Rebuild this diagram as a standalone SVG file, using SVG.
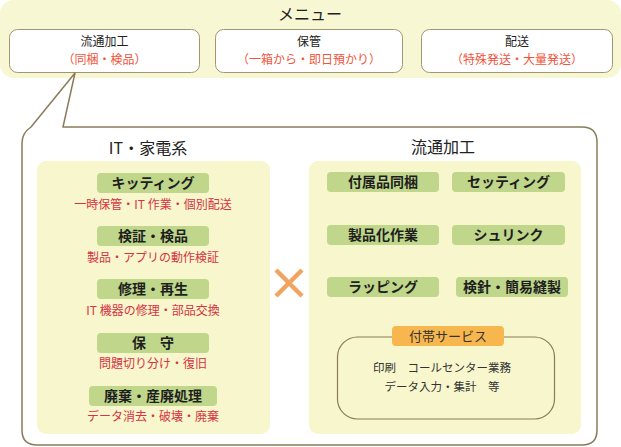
<svg xmlns="http://www.w3.org/2000/svg" width="621" height="447" viewBox="0 0 621 447">
<defs>
<style>
text{font-family:"Noto Sans CJK JP","Noto Sans",sans-serif;text-anchor:middle}
.ttl{font-size:16px;fill:#222}
.mbox{fill:#fff;stroke:#a39572;stroke-width:1}
.mname{font-size:12px;fill:#222}
.mred{font-size:12px;fill:#f0553c}
.panel{fill:#f7f6cd}
.btn{fill:#bfd68b}
.btxt{font-size:14px;font-weight:bold;fill:#1e1e1e}
.sub{font-size:12px;fill:#d63343}
.svc{font-size:11.5px;fill:#333}
</style>
</defs>
<g id="menu">
<rect x="0" y="0" width="621" height="78" rx="14" fill="#f8f7d3"/>
<text class="ttl" x="310" y="20">メニュー</text>
</g>
<g id="menu-ryutsu">
<rect class="mbox" x="9.5" y="29.5" width="190" height="43" rx="8"/>
<text class="mname" x="104.5" y="46">流通加工</text>
<text class="mred" x="104.5" y="64">（同梱・検品）</text>
</g>
<g id="menu-hokan">
<rect class="mbox" x="215.5" y="29.5" width="187" height="43" rx="8"/>
<text class="mname" x="309" y="46">保管</text>
<text class="mred" x="309" y="64">（一箱から・即日預かり）</text>
</g>
<g id="menu-haiso">
<rect class="mbox" x="421.5" y="29.5" width="191" height="43" rx="8"/>
<text class="mname" x="517" y="46">配送</text>
<text class="mred" x="517" y="64">（特殊発送・大量発送）</text>
</g>
<g id="connectors">
<path d="M75,73 L63,127 H582 Q597,127 597,142 V430 Q597,445 582,445 H37 Q22,445 22,430 V143 Q22,133 31,127 Z" fill="#fff" stroke="#8a7b5a" stroke-width="1.5" stroke-linejoin="round"/>
</g>
<g id="it-panel">
<text class="ttl" x="148" y="153.5">IT・家電系</text>
<rect class="panel" x="37" y="161" width="233" height="273" rx="9"/>
</g>
<g id="kitting">
<rect class="btn" x="97" y="173" width="112" height="20" rx="4"/>
<text class="btxt" x="153" y="188">キッティング</text>
<text class="sub" x="153" y="208.5">一時保管・IT 作業・個別配送</text>
</g>
<g id="kensho">
<rect class="btn" x="97" y="226" width="112" height="20" rx="4"/>
<text class="btxt" x="153" y="241">検証・検品</text>
<text class="sub" x="153" y="261.5">製品・アプリの動作検証</text>
</g>
<g id="shuri">
<rect class="btn" x="97" y="279" width="112" height="20" rx="4"/>
<text class="btxt" x="153" y="294">修理・再生</text>
<text class="sub" x="153" y="315">IT 機器の修理・部品交換</text>
</g>
<g id="hoshu">
<rect class="btn" x="97" y="333" width="112" height="20" rx="4"/>
<text class="btxt" x="153" y="348">保　守</text>
<text class="sub" x="153" y="367.5">問題切り分け・復旧</text>
</g>
<g id="haiki">
<rect class="btn" x="89" y="386" width="128" height="20" rx="4"/>
<text class="btxt" x="153" y="401">廃棄・産廃処理</text>
<text class="sub" x="153" y="421">データ消去・破壊・廃棄</text>
</g>
<g id="cross">
<path d="M276,270 L302,296 M302,270 L276,296" stroke="#f0a460" stroke-width="4.5" fill="none"/>
</g>
<g id="ryutsu-panel">
<text class="ttl" x="443" y="152.5">流通加工</text>
<rect class="panel" x="309" y="161" width="272" height="273" rx="9"/>
</g>
<g id="fuzoku">
<rect class="btn" x="327" y="172" width="112" height="20" rx="4"/>
<text class="btxt" x="383" y="187">付属品同梱</text>
</g>
<g id="setting">
<rect class="btn" x="452" y="172" width="113" height="20" rx="4"/>
<text class="btxt" x="508.5" y="187">セッティング</text>
</g>
<g id="seihinka">
<rect class="btn" x="327" y="225" width="112" height="20" rx="4"/>
<text class="btxt" x="383" y="240">製品化作業</text>
</g>
<g id="shrink">
<rect class="btn" x="452" y="225" width="113" height="20" rx="4"/>
<text class="btxt" x="508.5" y="240">シュリンク</text>
</g>
<g id="wrapping">
<rect class="btn" x="327" y="277" width="112" height="20" rx="4"/>
<text class="btxt" x="383" y="292">ラッピング</text>
</g>
<g id="kenshin">
<rect class="btn" x="456" y="277" width="112" height="20" rx="4"/>
<text class="btxt" x="512" y="292">検針・簡易縫製</text>
</g>
<g id="futai">
<rect x="337.5" y="337" width="217" height="82" rx="20" fill="none" stroke="#8a7b5a" stroke-width="1.2"/>
<rect x="392" y="326" width="112" height="20" rx="4" fill="#f7b74e"/>
<text x="448" y="341" style="font-size:13px;fill:#333">付帯サービス</text>
<text class="svc" x="442" y="372">印刷　コールセンター業務</text>
<text class="svc" x="442" y="391">データ入力・集計　等</text>
</g>
</svg>
